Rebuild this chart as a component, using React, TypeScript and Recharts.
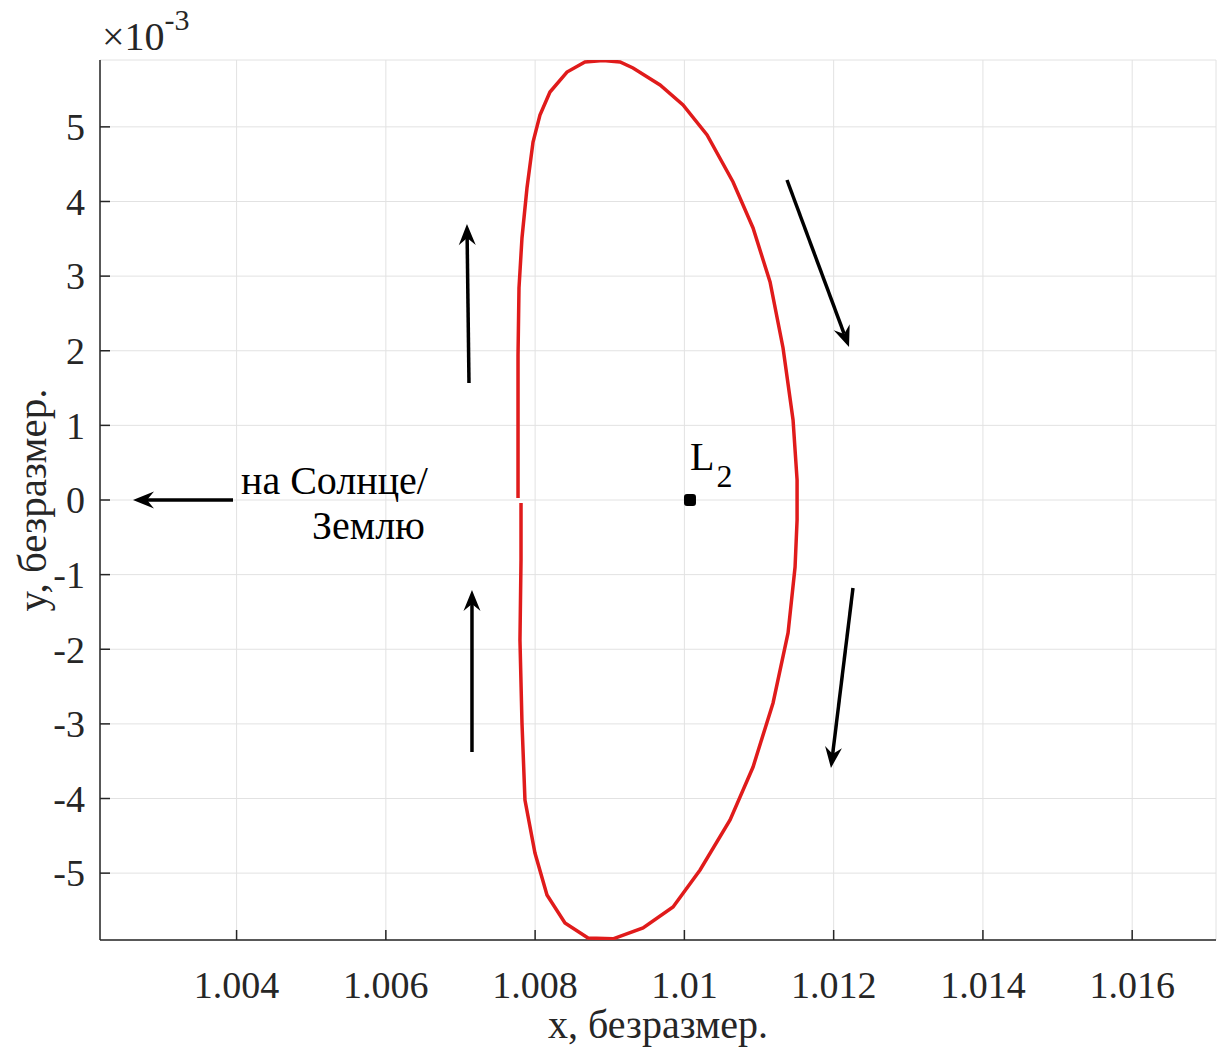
import {
  CartesianGrid,
  ReferenceDot,
  ReferenceLine,
  Scatter,
  ScatterChart,
  XAxis,
  YAxis,
} from "recharts";

const FONT = "'Liberation Serif', 'Times New Roman', serif";
const AXIS = "#262626";

const xTicks = [1.004, 1.006, 1.008, 1.01, 1.012, 1.014, 1.016];
const yTicks = [-5, -4, -3, -2, -1, 0, 1, 2, 3, 4, 5];
const xDomain = [1.00217, 1.017123];
const yDomain = [-5.896, 5.896];

// orbit, y in units of 1e-3, starts just above y=0 on the left and runs clockwise
const orbitX = [
  1.007771, 1.007771, 1.007771, 1.007784, 1.007824, 1.007891, 1.007972, 1.008065,
  1.008199, 1.008427, 1.008668, 1.00891, 1.009138, 1.009312, 1.009674, 1.009982,
  1.010304, 1.010652, 1.01092, 1.011148, 1.011322, 1.011456, 1.01151, 1.01151,
  1.011483, 1.011389, 1.011188, 1.01092, 1.010612, 1.01021, 1.009848, 1.009446,
  1.009044, 1.008709, 1.0084, 1.008159, 1.007998, 1.007864, 1.007824, 1.007797,
  1.007811, 1.007811,
];
const orbitY = [
  0.027, 0.938, 1.943, 2.841, 3.511, 4.181, 4.797, 5.159,
  5.467, 5.735, 5.869, 5.89, 5.869, 5.789, 5.561, 5.293,
  4.891, 4.261, 3.645, 2.921, 2.037, 1.072, 0.268, -0.268,
  -0.898, -1.782, -2.72, -3.578, -4.288, -4.958, -5.454, -5.735,
  -5.88, -5.869, -5.668, -5.293, -4.73, -4.02, -2.988, -1.876,
  -0.804, -0.04,
];

// direction arrows (tail -> head)
const arrowTailX = [1.003952, 1.007114, 1.007154, 1.011375, 1.012259];
const arrowTailY = [0, 1.568, -3.377, 4.288, -1.179];
const arrowHeadX = [1.002612, 1.007087, 1.007154, 1.012206, 1.011964];
const arrowHeadY = [0, 3.698, -1.206, 2.05, -3.591];

const l2X = [1.010075];
const l2Y = [0];

const orbit = orbitX.map((x, i) => ({ x, y: orbitY[i] }));
const l2 = l2X.map((x, i) => ({ x, y: l2Y[i] }));

const ArrowShape = (props: any) => {
  const { x1, y1, x2, y2 } = props;
  const a = Math.atan2(y2 - y1, x2 - x1);
  const c = Math.cos(a);
  const s = Math.sin(a);
  const len = 21;
  const half = 8.5;
  const notch = 14;
  const bx = x2 - len * c;
  const by = y2 - len * s;
  const nx = x2 - notch * c;
  const ny = y2 - notch * s;
  const pts = [
    `${x2},${y2}`,
    `${bx - half * s},${by + half * c}`,
    `${nx},${ny}`,
    `${bx + half * s},${by - half * c}`,
  ].join(" ");
  return (
    <g>
      <line x1={x1} y1={y1} x2={nx} y2={ny} stroke="#000" strokeWidth={3.5} />
      <polygon points={pts} fill="#000" />
    </g>
  );
};

const BottomTick = (p: any) => (
  <g>
    <line x1={p.x} y1={p.y} x2={p.x} y2={p.y - 10} stroke={AXIS} strokeWidth={1.5} />
    <text x={p.x} y={p.y + 58} textAnchor="middle" fontSize={38} fontFamily={FONT} fill={AXIS}>
      {p.payload.value}
    </text>
  </g>
);
const TopTick = (p: any) => (
  <line x1={p.x} y1={p.y} x2={p.x} y2={p.y + 10} stroke={AXIS} strokeWidth={1.5} />
);
const LeftTick = (p: any) => (
  <g>
    <line x1={p.x} y1={p.y} x2={p.x + 10} y2={p.y} stroke={AXIS} strokeWidth={1.5} />
    <text x={p.x - 15} y={p.y} dy="0.35em" textAnchor="end" fontSize={38} fontFamily={FONT} fill={AXIS}>
      {p.payload.value}
    </text>
  </g>
);
const RightTick = (p: any) => (
  <line x1={p.x} y1={p.y} x2={p.x - 10} y2={p.y} stroke={AXIS} strokeWidth={1.5} />
);

const L2Marker = (p: any) => (
  <g fill="#000">
    <rect x={p.cx - 6} y={p.cy - 6} width={12} height={12} rx={3} />
  </g>
);

export default function App() {
  return (
    <div style={{ position: "absolute", left: 0, top: 0 }}>
      <ScatterChart width={1220} height={1048} margin={{ top: 60, right: 4, bottom: 0, left: 0 }}>
        <CartesianGrid stroke="#e2e2e2" strokeWidth={1} />
        <XAxis
          type="number"
          dataKey="x"
          domain={xDomain}
          ticks={xTicks}
          interval={0}
          allowDataOverflow
          height={108}
          tickSize={0}
          tickMargin={0}
          tickLine={false}
          stroke={AXIS}
          strokeWidth={1.5}
          tick={BottomTick}
          label={(lp: any) => {
            const vb = lp.viewBox;
            return (
              <text x={vb.x + vb.width / 2} y={vb.y + 98} textAnchor="middle" fontSize={40} fontFamily={FONT} fill={AXIS}>
                x, безразмер.
              </text>
            );
          }}
        />
        <XAxis
          xAxisId="top"
          orientation="top"
          type="number"
          dataKey="x"
          domain={xDomain}
          ticks={xTicks}
          interval={0}
          allowDataOverflow
          height={0}
          tickSize={0}
          tickMargin={0}
          tickLine={false}
          stroke={AXIS}
          strokeWidth={1.5}
          tick={TopTick}
        />
        <YAxis
          type="number"
          dataKey="y"
          domain={yDomain}
          ticks={yTicks}
          interval={0}
          allowDataOverflow
          width={100}
          tickSize={0}
          tickMargin={0}
          tickLine={false}
          stroke={AXIS}
          strokeWidth={1.5}
          tick={LeftTick}
          label={(lp: any) => {
            const vb = lp.viewBox;
            const cx = vb.x + 46;
            const cy = vb.y + vb.height / 2;
            return (
              <text x={cx} y={cy} transform={`rotate(-90 ${cx} ${cy})`} textAnchor="middle" fontSize={41} fontFamily={FONT} fill={AXIS}>
                y, безразмер.
              </text>
            );
          }}
        />
        <YAxis
          yAxisId="right"
          orientation="right"
          type="number"
          dataKey="y"
          domain={yDomain}
          ticks={yTicks}
          interval={0}
          allowDataOverflow
          width={0}
          tickSize={0}
          tickMargin={0}
          tickLine={false}
          stroke={AXIS}
          strokeWidth={1.5}
          tick={RightTick}
        />
        <Scatter
          data={orbit}
          line={{ stroke: "#e01b1b", strokeWidth: 3.5 }}
          shape={() => <g />}
          isAnimationActive={false}
        />
        {arrowTailX.map((x, i) => (
          <ReferenceLine
            key={i}
            segment={[
              { x, y: arrowTailY[i] },
              { x: arrowHeadX[i], y: arrowHeadY[i] },
            ]}
            shape={ArrowShape}
          />
        ))}
        <Scatter data={l2} shape={L2Marker} isAnimationActive={false} />
        <ReferenceDot
          x={l2X[0]}
          y={l2Y[0]}
          r={0}
          shape={(p: any) => (
            <text x={p.cx} y={p.cy - 30} fontSize={40} fontFamily={FONT} fill="#000">
              L
              <tspan fontSize={32} dx={2} dy={17}>2</tspan>
            </text>
          )}
        />
        <ReferenceDot
          x={arrowTailX[0]}
          y={arrowTailY[0]}
          r={0}
          shape={(p: any) => (
            <g fontSize={40} fontFamily={FONT} fill="#000">
              <text x={p.cx + 8} y={p.cy - 6}>на Солнце/</text>
              <text x={p.cx + 192} y={p.cy + 39} textAnchor="end">Землю</text>
            </g>
          )}
        />
        <ReferenceDot
          x={xDomain[0]}
          y={yDomain[1]}
          r={0}
          ifOverflow="visible"
          shape={(p: any) => (
            <text x={p.cx + 2} y={p.cy - 10} fontSize={40} fontFamily={FONT} fill={AXIS}>
              ×10
              <tspan fontSize={30} dy={-20}>-3</tspan>
            </text>
          )}
        />
      </ScatterChart>
    </div>
  );
}
